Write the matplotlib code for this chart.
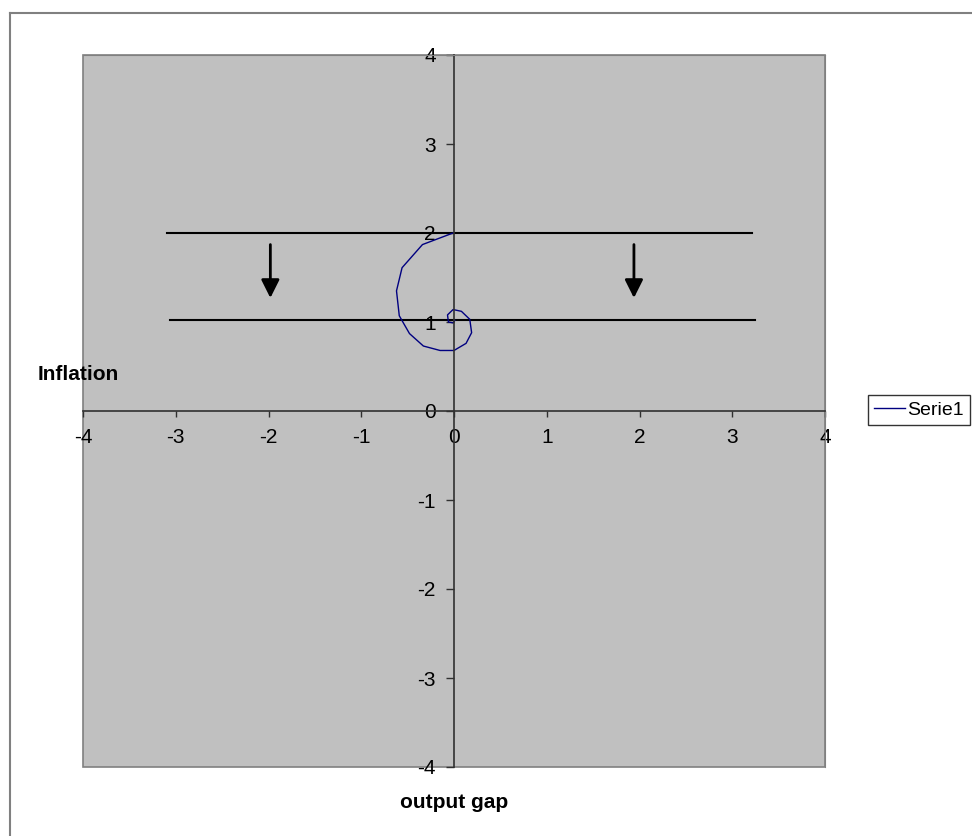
import matplotlib
matplotlib.use("Agg")
import matplotlib.pyplot as plt
from matplotlib.lines import Line2D
from matplotlib.patches import Rectangle

plt.rcParams['font.family'] = ['Liberation Sans', 'DejaVu Sans']

# adjustment path of (output gap, inflation)
gap = [-0.01, -0.34, -0.56, -0.62, -0.59, -0.48, -0.33, -0.15, 0.0, 0.13,
       0.19, 0.17, 0.08, -0.01, -0.07, -0.06, -0.01, 0.01]
infl = [2.00, 1.87, 1.61, 1.35, 1.07, 0.87, 0.73, 0.68, 0.68, 0.76,
        0.88, 1.03, 1.12, 1.14, 1.08, 1.00, 0.99, 1.02]

# old and new inflation target lines
upper_x = [-3.09, 3.21]
upper_y = [2.0, 2.0]
lower_x = [-3.06, 3.25]
lower_y = [1.02, 1.02]

# downward shift arrows (x, y_start, y_end)
arrow_x = [-1.98, 1.94]
arrow_top = [1.87, 1.87]
arrow_bottom = [1.27, 1.27]

ticks = [-4, -3, -2, -1, 0, 1, 2, 3, 4]

W, H = 972, 836
fig = plt.figure(figsize=(W / 100, H / 100), dpi=100)
ax = fig.add_axes([83 / W, (H - 767) / H, 742 / W, 712 / H])
ax.set_facecolor("#c0c0c0")

ax.plot(upper_x, upper_y, color="black", lw=1.5)
ax.plot(lower_x, lower_y, color="black", lw=1.5)
for x, y0, y1 in zip(arrow_x, arrow_top, arrow_bottom):
    ax.annotate("", xy=(x, y1), xytext=(x, y0),
                arrowprops=dict(arrowstyle="-|>,head_width=0.55,head_length=1.1",
                                color="black", lw=2.0, shrinkA=0, shrinkB=0))
line, = ax.plot(gap, infl, color="#000080", lw=1.0, label="Serie1")

ax.set_xlim(-4, 4)
ax.set_ylim(-4, 4)
ax.set_xticks(ticks)
ax.set_yticks(ticks)
ax.set_xticklabels([str(t) for t in ticks])
ax.set_yticklabels([str(t) for t in ticks])

# axes crossing at the origin
for side in ("left", "bottom"):
    ax.spines[side].set_position(("data", 0))
    ax.spines[side].set_color("#303030")
    ax.spines[side].set_linewidth(1.2)
for side in ("top", "right"):
    ax.spines[side].set_color("#808080")
ax.add_patch(Rectangle((0, 0), 1, 1, transform=ax.transAxes, fill=False,
                       edgecolor="#808080", lw=1.2, clip_on=False))
ax.tick_params(axis="x", direction="out", length=4, width=1, color="#303030",
               pad=8, labelsize=15)
ax.tick_params(axis="y", direction="out", length=6, width=1, color="#303030",
               pad=7, labelsize=15)

fig.text(38 / W, 1 - 375 / H, "Inflation", fontsize=15, fontweight="bold",
         ha="left", va="center")
fig.text(454 / W, 1 - 803 / H, "output gap", fontsize=15, fontweight="bold",
         ha="center", va="center")

leg = fig.legend(handles=[line], loc="center right",
                 bbox_to_anchor=(970 / W, 1 - 410 / H), fontsize=14,
                 frameon=True, fancybox=False, handlelength=1.6,
                 handletextpad=0.15, borderpad=0.3, borderaxespad=0)
leg.get_frame().set_edgecolor("black")
leg.get_frame().set_linewidth(1.0)

# chart area border
fig.add_artist(Line2D([10 / W, 1], [1 - 13 / H, 1 - 13 / H], color="#808080", lw=1.5))
fig.add_artist(Line2D([10 / W, 10 / W], [0, 1 - 13 / H], color="#808080", lw=1.5))

fig.savefig("out.png", dpi=100)
